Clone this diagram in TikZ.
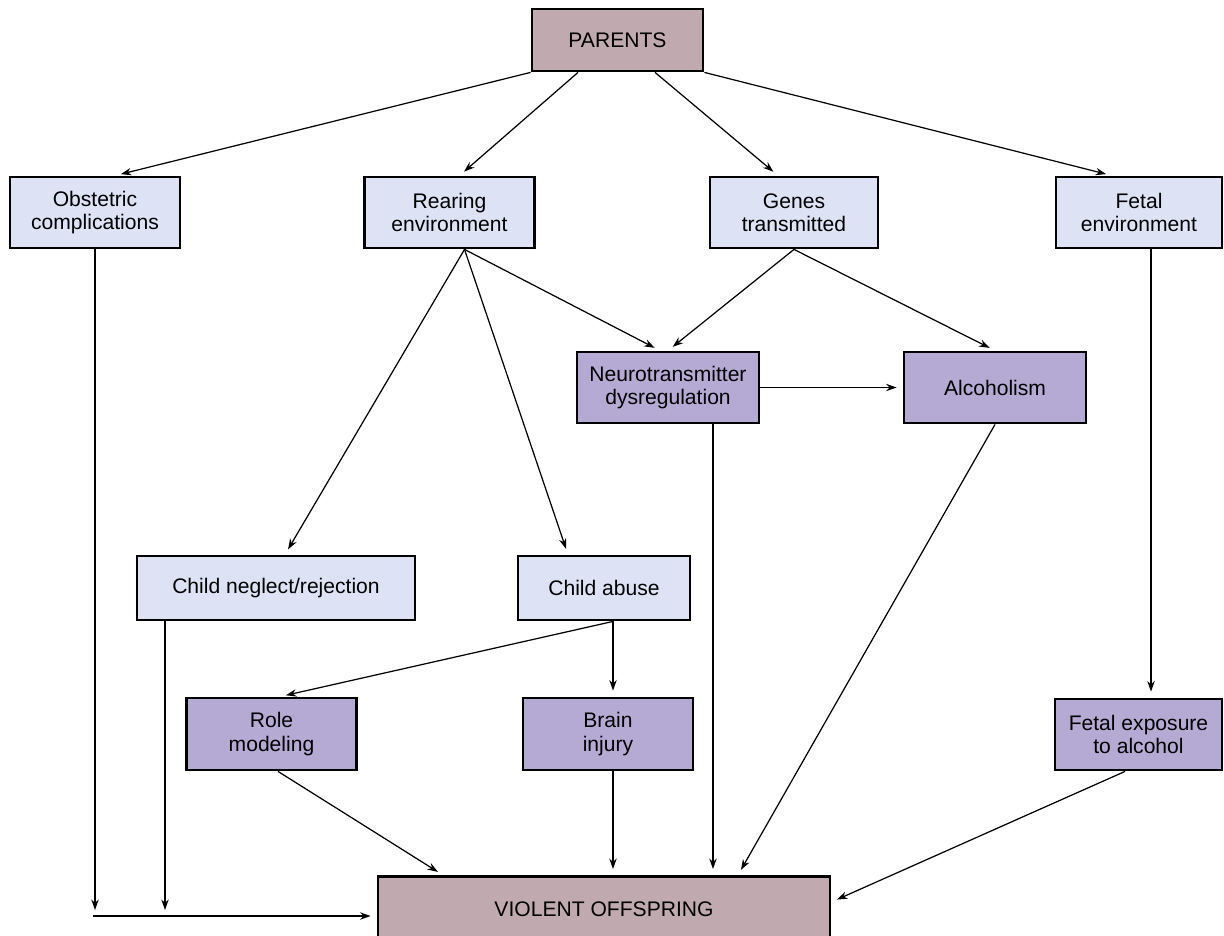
\documentclass[tikz,border=0pt]{standalone}
\usepackage{fontspec}
\setmainfont{Liberation Sans}
\usepackage{tikz}
\usetikzlibrary{arrows.meta,calc}
\definecolor{boxblue}{RGB}{221,227,245}
\definecolor{boxpurple}{RGB}{180,170,212}
\definecolor{boxmauve}{RGB}{192,169,175}

\begin{document}
\begin{tikzpicture}[
  box/.style={draw, line width=1.6pt, align=center, inner sep=2pt,
              minimum width=3.4cm, minimum height=1.42cm},
  bbox/.style={box, fill=boxblue},
  pbox/.style={box, fill=boxpurple},
  mbox/.style={box, fill=boxmauve},
  arr/.style={-{Stealth[length=6pt,width=4.2pt]}, line width=0.7pt,
              shorten >=1.2mm},
  font=\fontsize{12}{13.3}\selectfont
]
\useasboundingbox (0,0) rectangle (24.48,-18.7);

% ======= Top =======
\node[mbox, minimum width=3.42cm, minimum height=1.24cm] (parents) at (12.35,-0.80) {PARENTS};

% ======= First row =======
\node[bbox] (obst)     at (1.90,-4.25)  {Obstetric\\complications};
\node[bbox] (rear)     at (8.99,-4.25)  {Rearing\\environment};
\node[bbox, minimum width=3.36cm] (genes)    at (15.88,-4.25) {Genes\\transmitted};
\node[bbox, minimum width=3.32cm] (fetalenv) at (22.78,-4.25) {Fetal\\environment};

% ======= Second row =======
\node[pbox, minimum width=3.64cm] (neuro) at (13.36,-7.75) {Neurotransmitter\\dysregulation};
\node[pbox, minimum width=3.64cm] (alco)  at (19.90,-7.75) {Alcoholism};

% ======= Third row =======
\node[bbox, minimum width=5.56cm, minimum height=1.28cm] (neglect) at (5.52,-11.76)  {Child neglect/rejection};
\node[bbox, minimum width=3.44cm, minimum height=1.28cm] (abuse)   at (12.08,-11.76) {Child abuse};

% ======= Fourth row =======
\node[pbox, minimum height=1.44cm] (role)   at (5.43,-14.68)  {Role\\modeling};
\node[pbox, minimum height=1.44cm] (brain)  at (12.16,-14.68) {Brain\\injury};
\node[pbox, minimum width=3.34cm] (fetexp) at (22.77,-14.69) {Fetal exposure\\to alcohol};

% ======= Bottom =======
\node[mbox, minimum width=9.04cm, minimum height=1.3cm] (violent) at (12.08,-18.18) {VIOLENT OFFSPRING};
\coordinate (merge) at (1.86,-18.32);

% ======= Connections =======
\draw[arr] (parents.south west)          -- ([xshift=4mm]obst.north);
\draw[arr] ([xshift=-7.9mm]parents.south) -- ([xshift=2mm]rear.north);
\draw[arr] ([xshift=7.5mm]parents.south)  -- ([xshift=-3.2mm]genes.north);
\draw[arr] (parents.south east)          -- ([xshift=-5.4mm]fetalenv.north);

\coordinate (rearout) at ([xshift=3mm]rear.south);
\draw[arr] (rearout) -- ([xshift=1.8mm]neglect.north);
\draw[arr] (rearout) -- ([xshift=-7.2mm]abuse.north);
\draw[arr] (rearout) -- ([xshift=-1.6mm]neuro.north);
\draw[arr] (genes.south) -- (neuro.north);
\draw[arr] (genes.south) -- (alco.north);
\draw[arr] (neuro.east) -- (alco.west);

\coordinate (abuseout) at ([xshift=1.8mm]abuse.south);
\draw[arr] (abuseout) -- ([xshift=1.7mm]role.north);
\draw[arr] (abuseout) -- (abuseout |- brain.north);

\draw[arr] ([xshift=1.3mm]role.south) -- ([xshift=-3.22cm]violent.north);
\draw[arr] ([xshift=1mm]brain.south) -- ([xshift=1mm]brain.south |- violent.north);
\draw[arr] ([xshift=9mm]neuro.south) -- ([xshift=9mm]neuro.south |- violent.north);
\draw[arr] (alco.south) -- ([xshift=2.68cm]violent.north);
\draw[arr] ([xshift=-2.7mm]fetexp.south) -- ([yshift=1.4mm]violent.east);
\draw[arr] ([xshift=2.4mm]fetalenv.south) -- ([xshift=2.4mm]fetalenv.south |- fetexp.north);

\draw[arr] (obst.south) -- (obst.south |- merge);
\draw[arr] ([xshift=-2.22cm]neglect.south) -- ([xshift=-2.22cm]neglect.south |- merge);
\draw[arr] (merge) -- (merge -| violent.west);

\end{tikzpicture}
\end{document}
